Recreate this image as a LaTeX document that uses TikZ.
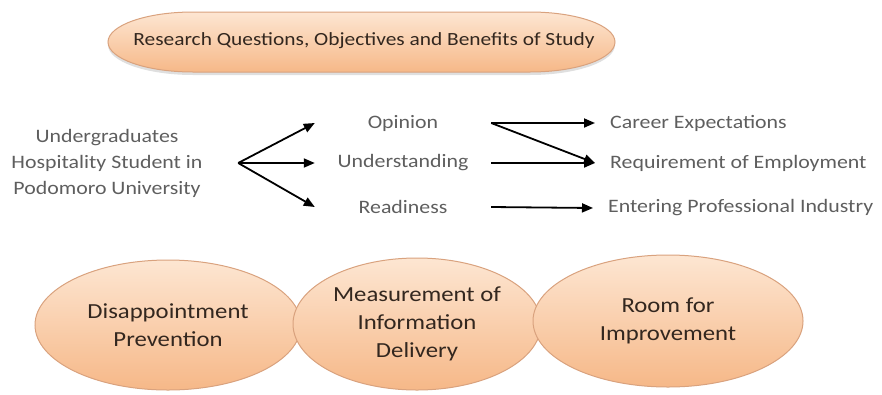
\documentclass[tikz,border=0pt]{standalone}
\usepackage{fontspec}
\setmainfont{Carlito}[FakeStretch=1.15]
\usetikzlibrary{shapes.geometric,arrows.meta,shadows}

\definecolor{peachtop}{HTML}{FDE6D2}
\definecolor{peachbot}{HTML}{F6B888}
\definecolor{peachline}{HTML}{D9A27E}
\definecolor{graytext}{HTML}{5E5E5E}
\definecolor{darktext}{HTML}{33271F}

\tikzset{
  bubble/.style={ellipse, draw=peachline, line width=1pt,
    top color=peachtop, bottom color=peachbot,
    inner sep=0pt, align=center, text=darktext,
    font=\fontsize{21.5}{28}\selectfont},
  banner/.style={draw=peachline, line width=1pt,
    top color=peachtop, bottom color=peachbot,
    drop shadow={opacity=0.25, shadow xshift=0pt, shadow yshift=-3pt}},
  label/.style={text=graytext, inner sep=0pt,
    font=\fontsize{19}{26}\selectfont},
  arr/.style={draw=black, line width=1.8pt,
    -{Triangle[length=11pt,width=9pt]}}
}

\begin{document}
\begin{tikzpicture}[x=1pt,y=1pt]
  \useasboundingbox (0,0) rectangle (882,-394);

  % heading: a long oval with elliptical ends, text on top
  \path[banner] (193,-12) -- (530,-12)
    arc[start angle=90, end angle=-90, x radius=85, y radius=30]
    -- (193,-72)
    arc[start angle=270, end angle=90, x radius=85, y radius=30]
    -- cycle;
  \node[text=darktext, inner sep=0pt, font=\fontsize{18.6}{22}\selectfont]
        (title) at (364,-41) {Research Questions, Objectives and Benefits of Study};

  % subject of study
  \node[label, align=center, minimum width=262pt] (student) at (107,-163)
    {Undergraduates\\Hospitality Student in\\Podomoro University};

  % aspects examined
  \node[label, minimum width=176pt] (opinion) at (403,-123) {Opinion};
  \node[label, minimum width=176pt] (understanding) at (403,-163) {Understanding};
  \node[label, minimum width=176pt] (readiness) at (403,-207) {Readiness};

  % outcomes
  \node[label, anchor=west, inner xsep=15pt] (career) at (595,-123) {Career Expectations};
  \node[label, anchor=west, inner xsep=15pt] (requirement) at (595,-163) {Requirement of Employment};
  \node[label, anchor=west, inner xsep=15pt] (entering) at (593,-208) {Entering Professional Industry};

  \draw[arr] (student.east) -- (opinion.west);
  \draw[arr] (student.east) -- (understanding.west);
  \draw[arr] (student.east) -- (readiness.west);

  \draw[arr] (opinion.east) -- (career.west);
  \draw[arr] (opinion.east) -- (requirement.west);
  \draw[arr] (understanding.east) -- (requirement.west);
  \draw[arr] (readiness.east) -- (entering.west);

  % benefits
  \node[bubble, minimum width=266pt, minimum height=130pt] (prevent) at (168,-325)
    {Disappointment\\Prevention};
  \node[bubble, minimum width=248pt, minimum height=132pt] (measure) at (417,-324)
    {Measurement of\\Information\\Delivery};
  \node[bubble, minimum width=270pt, minimum height=132pt] (room) at (668,-321)
    {Room for\\Improvement};
\end{tikzpicture}
\end{document}
